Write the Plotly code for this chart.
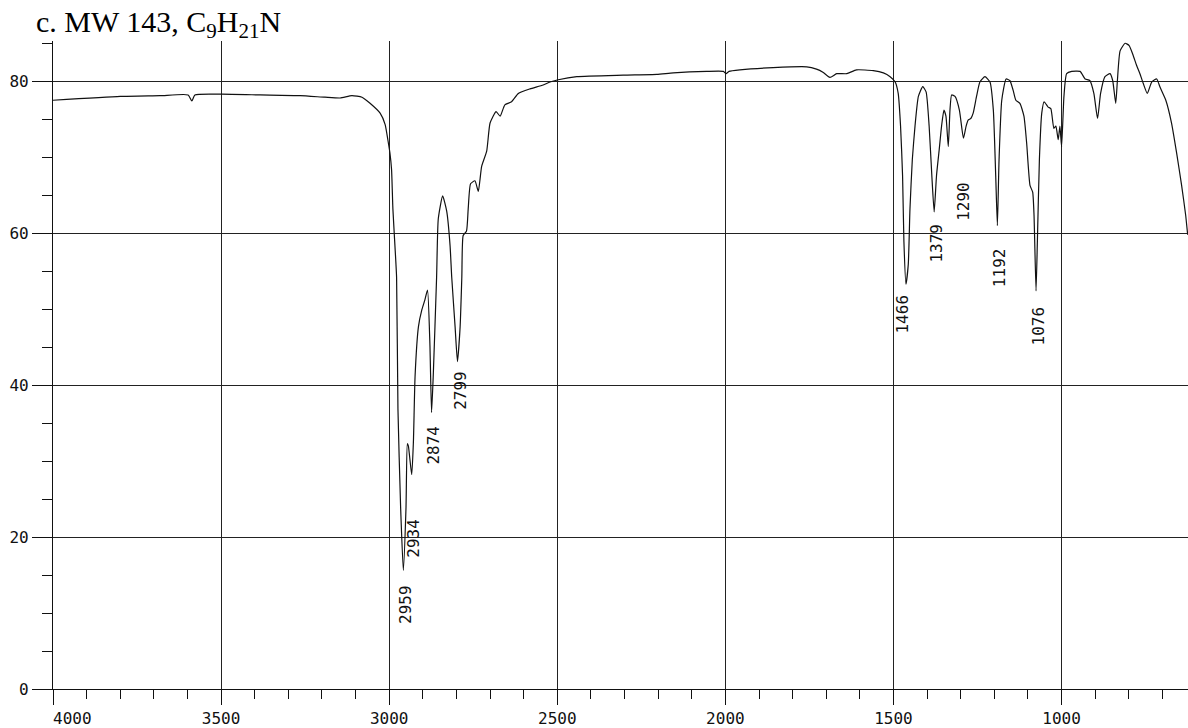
import plotly.graph_objects as go

# ---- data ----
wavenumber = [4000, 3800, 3682, 3598, 3587, 3578, 3498, 3384, 3265, 3191, 3146, 3111, 3081, 3057,
              3027, 3012, 3004, 2998, 2993, 2989, 2983, 2978, 2974, 2966, 2958, 2950, 2946, 2943,
              2933, 2928, 2923, 2913, 2903, 2894, 2886, 2879, 2874, 2869, 2859, 2854, 2841, 2829,
              2819, 2814, 2804, 2797, 2789, 2784, 2780, 2770, 2765, 2758, 2745, 2735, 2725, 2710,
              2700, 2682, 2670, 2656, 2636, 2616, 2581, 2542, 2522, 2497, 2442, 2304, 2204, 2155,
              2056, 2006, 1998, 1989, 1957, 1858, 1758, 1729, 1710, 1689, 1669, 1639, 1610, 1560,
              1530, 1510, 1495, 1486, 1479, 1473, 1469, 1463, 1456, 1451, 1444, 1436, 1426, 1413,
              1403, 1394, 1386, 1379, 1372, 1364, 1357, 1350, 1344, 1337, 1332, 1327, 1317, 1304,
              1292, 1284, 1278, 1270, 1263, 1253, 1243, 1228, 1213, 1203, 1196, 1191, 1186, 1178,
              1165, 1154, 1144, 1136, 1124, 1112, 1104, 1094, 1086, 1082, 1076, 1072, 1066, 1059,
              1052, 1040, 1032, 1023, 1017, 1010, 1005, 1000, 993, 985, 970, 945, 930, 916,
              904, 893, 884, 871, 856, 848, 839, 834, 826, 811, 799, 787, 777, 767,
              757, 745, 732, 717, 707, 690, 673, 658, 643, 631, 625]
transmittance = [77.5, 78.0, 78.1, 78.2, 77.4, 78.2, 78.3, 78.2, 78.1, 77.9, 77.8, 78.1, 77.9, 77.1,
                 75.8, 74.3, 72.3, 70.6, 68.4, 63.2, 58.4, 54.2, 36.9, 23.9, 15.6, 23.9, 32.3, 32.0,
                 28.2, 32.5, 41.2, 47.7, 49.9, 51.2, 52.5, 45.5, 36.4, 41.2, 54.2, 61.9, 64.9, 62.9,
                 58.4, 54.2, 47.7, 43.1, 47.7, 54.2, 59.7, 60.3, 63.2, 66.5, 66.9, 65.5, 68.8, 70.8,
                 74.5, 76.0, 75.4, 76.9, 77.3, 78.4, 79.0, 79.5, 79.9, 80.2, 80.6, 80.8, 80.9, 81.1,
                 81.3, 81.3, 81.0, 81.3, 81.5, 81.8, 81.9, 81.6, 81.2, 80.5, 81.0, 81.0, 81.5, 81.4,
                 81.1, 80.6, 79.9, 78.4, 74.1, 67.6, 58.9, 53.3, 55.9, 63.2, 69.7, 74.1, 78.0, 79.3,
                 78.6, 74.1, 67.6, 62.8, 67.6, 71.0, 74.1, 76.2, 75.4, 71.4, 76.2, 78.2, 78.0, 76.2,
                 72.5, 74.1, 74.9, 75.1, 75.8, 78.0, 79.9, 80.6, 79.9, 76.2, 67.6, 61.0, 69.7, 77.5,
                 80.3, 80.1, 78.8, 77.5, 77.1, 75.4, 71.9, 66.3, 65.4, 62.4, 52.4, 58.9, 69.7, 75.8,
                 77.3, 76.6, 76.4, 73.8, 74.1, 72.3, 74.1, 71.4, 78.0, 81.0, 81.3, 81.3, 80.3, 80.1,
                 78.4, 75.1, 78.4, 80.6, 81.0, 80.1, 77.1, 80.1, 84.0, 85.0, 84.7, 83.4, 82.1, 81.0,
                 79.7, 78.4, 79.9, 80.3, 79.2, 77.5, 74.5, 70.6, 66.3, 62.4, 59.8]

peak_labels = [2959, 2934, 2874, 2799, 1466, 1379, 1290, 1192, 1076]
peak_T = [15.6, 28.2, 36.4, 43.1, 53.3, 62.8, 72.5, 61.0, 52.4]

x_tickvals = [4000, 3500, 3000, 2500, 2000, 1500, 1000]
x_ticktext = ["\u00a0\u00a0\u00a0\u00a04000", "3500", "3000", "2500", "2000", "1500", "1000"]
y_tickvals = [0, 20, 40, 60, 80]

# ---- styling (label gaps in px below each peak) ----
label_gap = [12, 42, 11, 7, 8, 10, 42, 21, 14]
label_dx = [3, 2, 2, 3, -2, 2, 0, 2, 2]
MONO = "DejaVu Sans Mono"
INK = "#111111"

fig = go.Figure()
fig.add_trace(go.Scatter(x=wavenumber, y=transmittance, mode="lines",
                         line=dict(color=INK, width=1.2, shape="spline", smoothing=0.5),
                         hoverinfo="skip", showlegend=False))

for lab, t, gap, dx in zip(peak_labels, peak_T, label_gap, label_dx):
    fig.add_annotation(x=lab, y=t, text=str(lab), showarrow=False, textangle=-90,
                       xanchor="center", yanchor="top", yshift=-gap, xshift=dx,
                       font=dict(family=MONO, size=16, color=INK))

fig.add_annotation(xref="paper", yref="paper", x=0, y=1, xanchor="left", yanchor="bottom",
                   xshift=-19, yshift=-4, showarrow=False,
                   text="c. MW 143, C<sub>9</sub>H<sub>21</sub>N",
                   font=dict(family="Liberation Serif", size=30, color="black"))

minor_x = [v for v in range(700, 4000, 100) if v % 500 != 0]
minor_y = [v for v in range(5, 86, 5) if v % 20 != 0]

fig.update_layout(
    width=1188, height=728,
    margin=dict(l=53, r=0, t=41, b=31),
    paper_bgcolor="white", plot_bgcolor="white",
    font=dict(family=MONO, size=16, color=INK),
    xaxis=dict(range=[4000, 624], tickmode="array", tickvals=x_tickvals, ticktext=x_ticktext,
               ticks="outside", ticklen=15, tickwidth=1, tickcolor=INK,
               showline=True, linecolor=INK, linewidth=1.2,
               showgrid=True, gridcolor="#222222", gridwidth=1, zeroline=False,
               minor=dict(tickmode="array", tickvals=minor_x, ticks="outside", ticklen=9,
                          tickcolor=INK, tickwidth=1, showgrid=False),
               tickfont=dict(family=MONO, size=16, color=INK)),
    yaxis=dict(range=[0, 85.3], tickmode="array", tickvals=y_tickvals,
               ticks="outside", ticklen=20, tickwidth=1, tickcolor=INK,
               showline=True, linecolor=INK, linewidth=1.2,
               showgrid=True, gridcolor="#222222", gridwidth=1, zeroline=False,
               minor=dict(tickmode="array", tickvals=minor_y, ticks="outside", ticklen=10,
                          tickcolor=INK, tickwidth=1, showgrid=False),
               tickfont=dict(family=MONO, size=16, color=INK)),
)

fig.write_html("out.html")
